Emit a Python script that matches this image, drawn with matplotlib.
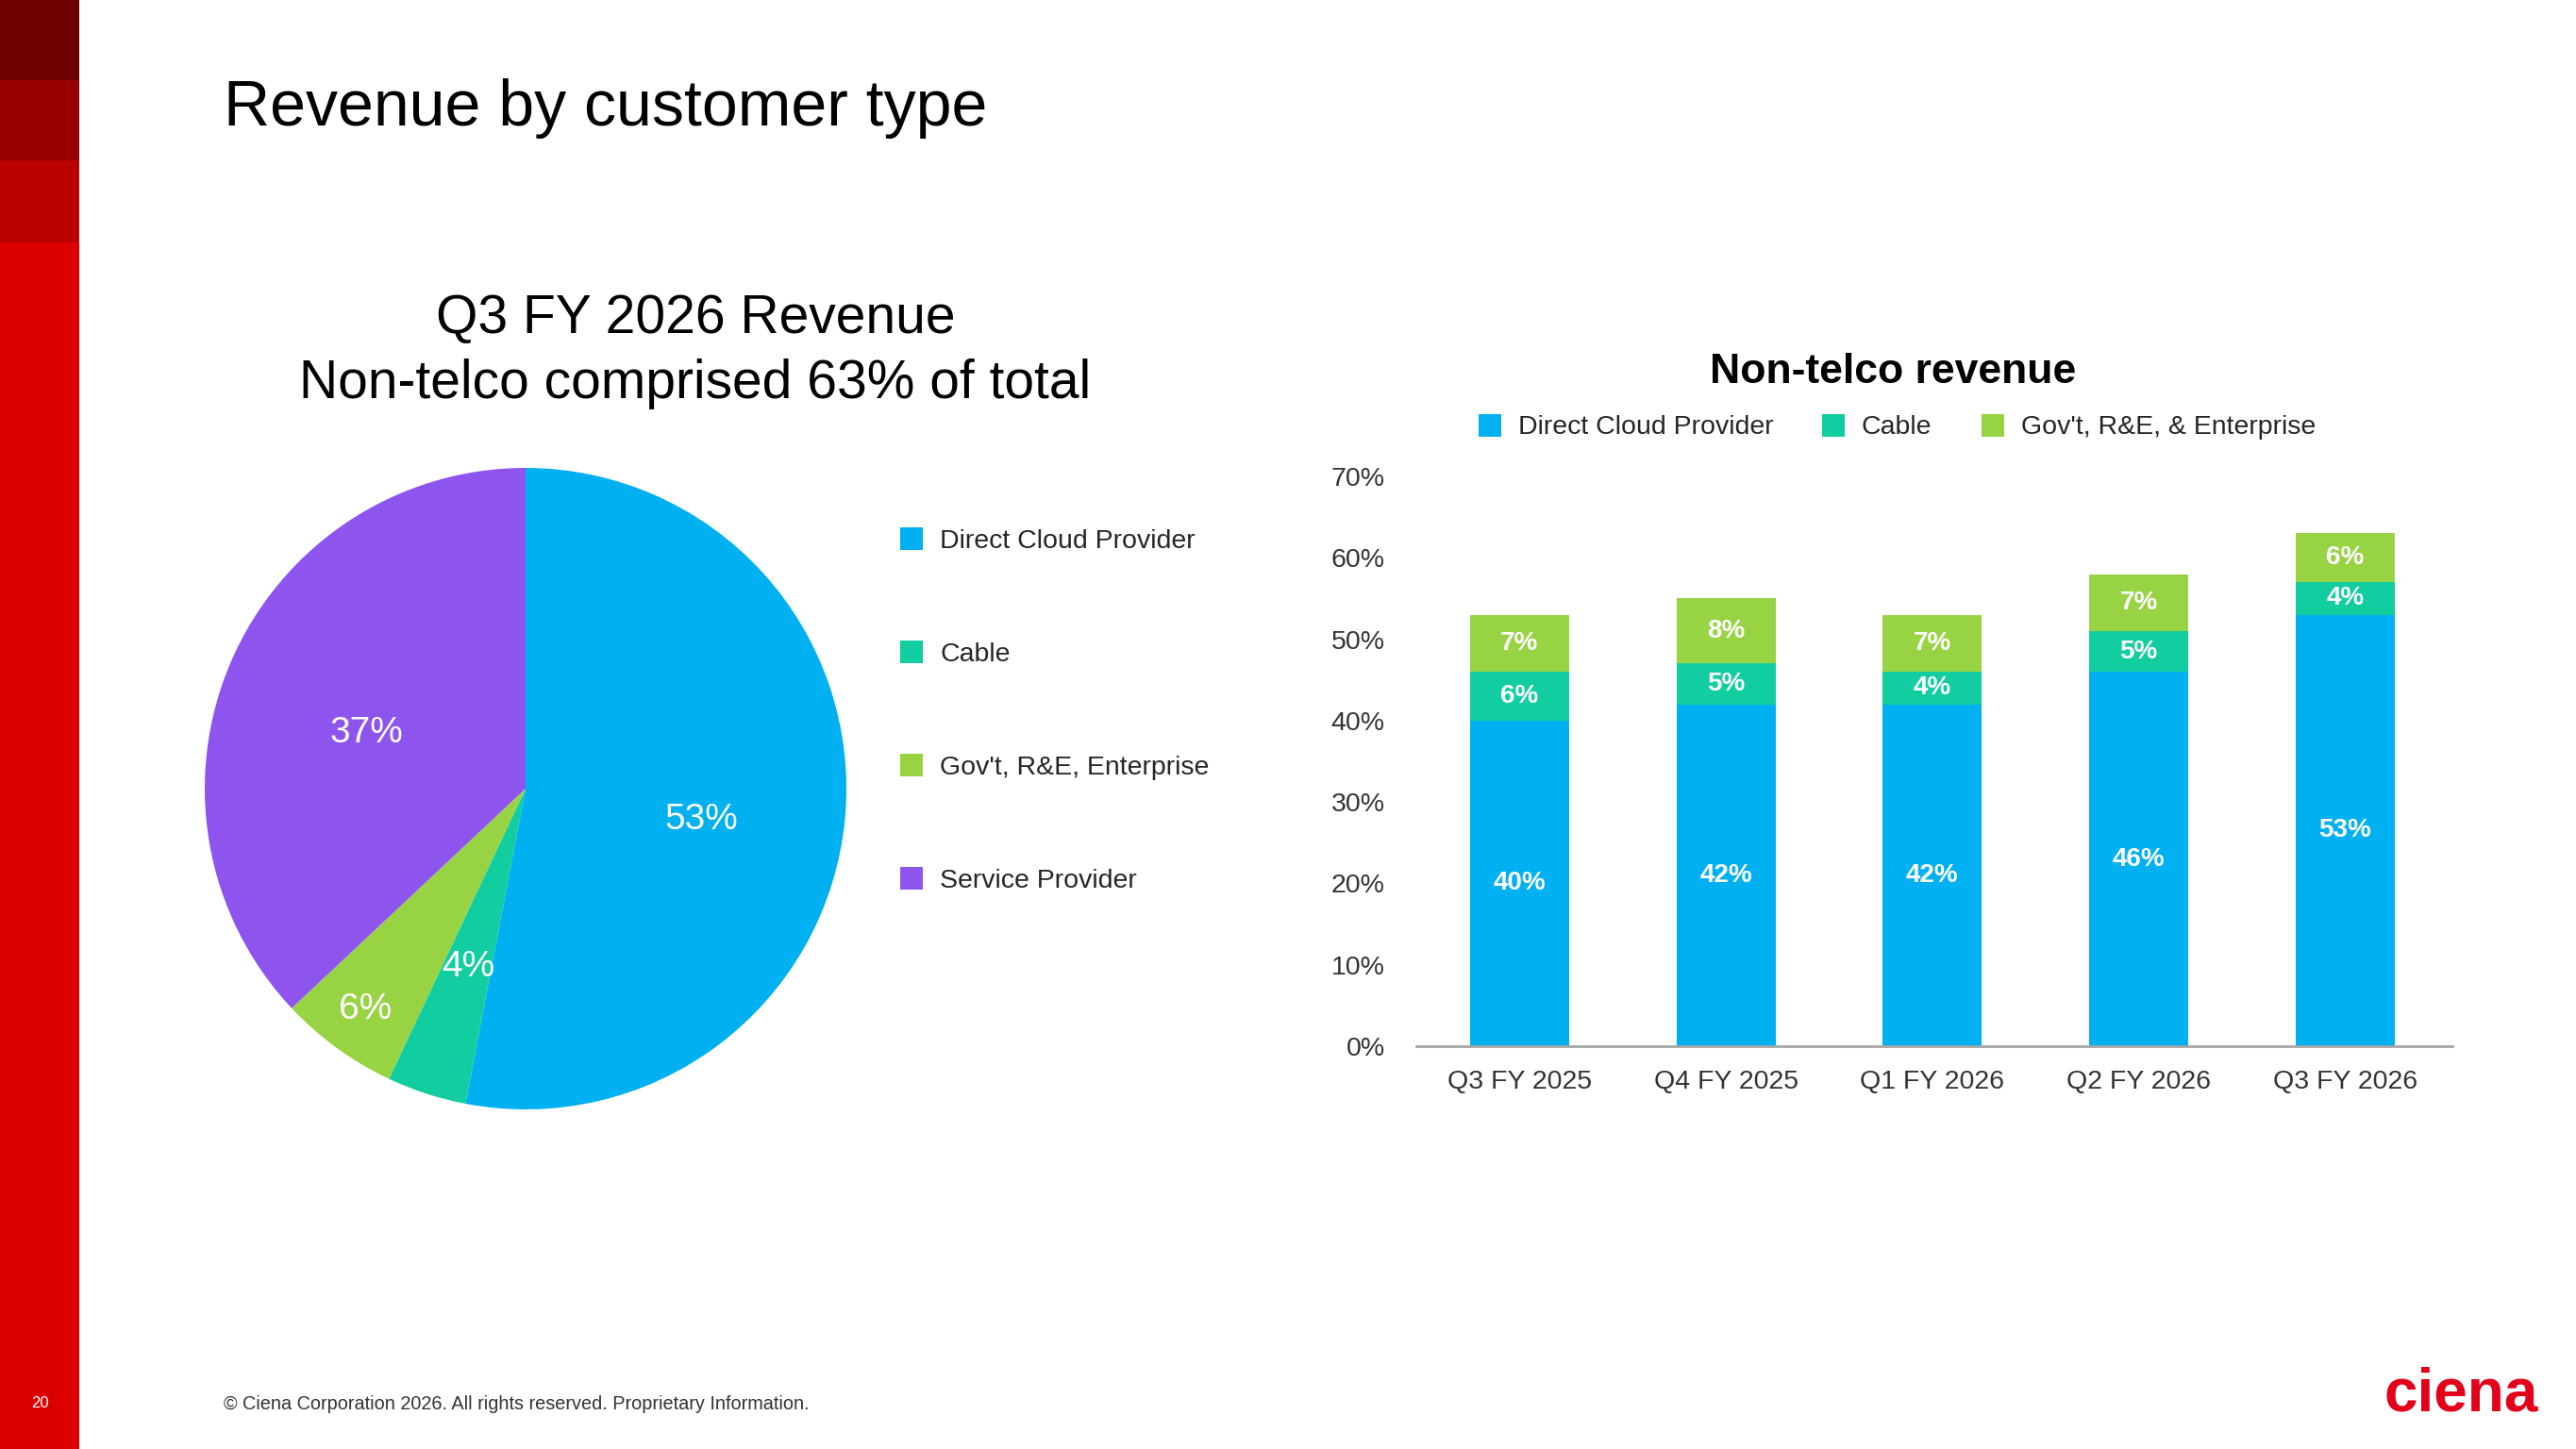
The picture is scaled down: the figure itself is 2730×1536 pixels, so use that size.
import matplotlib
matplotlib.use("Agg")
import matplotlib.pyplot as plt
from matplotlib.patches import Rectangle
import numpy as np

plt.rcParams['font.family'] = ['Liberation Sans', 'DejaVu Sans']

# pie data (Q3 FY 2026 revenue mix)
pie_labels = ['Direct Cloud Provider', 'Cable', "Gov't, R&E, Enterprise", 'Service Provider']
pie_values = [53, 4, 6, 37]

# stacked bar data (non-telco share by quarter)
quarters = ['Q3 FY 2025', 'Q4 FY 2025', 'Q1 FY 2026', 'Q2 FY 2026', 'Q3 FY 2026']
dcp = [40, 42, 42, 46, 53]
cable = [6, 5, 4, 5, 4]
gov = [7, 8, 7, 7, 6]
bar_series = ['Direct Cloud Provider', 'Cable', "Gov't, R&E, & Enterprise"]
y_ticks = [0, 10, 20, 30, 40, 50, 60, 70]

C_DCP = '#00b0f0'
C_CABLE = '#12cda0'
C_GOV = '#98d344'
C_SP = '#8e55ee'

W, H = 2730, 1536
fig = plt.figure(figsize=(W / 100, H / 100), dpi=100)


def fx(x):
    return x / W


def fy(y):
    return 1 - y / H


# red side stripe
stripe = [(0, 85, '#6e0000'), (85, 170, '#980000'), (170, 257, '#bb0000'), (257, H, '#dc0000')]
for y0, y1, col in stripe:
    fig.add_artist(Rectangle((0, fy(y1)), fx(84), (y1 - y0) / H,
                             transform=fig.transFigure, color=col, lw=0))

fig.text(fx(237), fy(115), 'Revenue by customer type', fontsize=49,
         ha='left', va='center', color='black')

# pie chart
fig.text(fx(737), fy(338), 'Q3 FY 2026 Revenue', fontsize=41, ha='center', va='center')
fig.text(fx(737), fy(407), 'Non-telco comprised 63% of total', fontsize=41,
         ha='center', va='center')

r = 340
ax1 = fig.add_axes([fx(557 - r), fy(836 + r), 2 * r / W, 2 * r / H])
wedges, _ = ax1.pie(pie_values, colors=[C_DCP, C_CABLE, C_GOV, C_SP], startangle=90,
                    counterclock=False, wedgeprops={'linewidth': 0})
ax1.set_xlim(-1, 1)
ax1.set_ylim(-1, 1)
ax1.set_aspect('equal')
ax1.axis('off')

label_dist = [0.55, 0.575, 0.85, 0.54]
label_dy = [-0.045, -0.01, 0, -0.04]
for w, v, d, dy in zip(wedges, pie_values, label_dist, label_dy):
    ang = np.deg2rad((w.theta1 + w.theta2) / 2)
    ax1.text(d * np.cos(ang), d * np.sin(ang) + dy, f'{v}%', color='white',
             fontsize=28, ha='center', va='center')

for i, (lab, col) in enumerate(zip(pie_labels, [C_DCP, C_CABLE, C_GOV, C_SP])):
    yc = 571 + i * 120
    fig.add_artist(Rectangle((fx(954), fy(yc + 12)), 24 / W, 24 / H,
                             transform=fig.transFigure, color=col, lw=0))
    fig.text(fx(996), fy(yc + 3), lab, fontsize=20.5, ha='left', va='center', color='#262626')

# stacked bar chart
fig.text(fx(2006), fy(395), 'Non-telco revenue', fontsize=32, fontweight='bold',
         ha='center', va='center')

leg_x = [1579, 1943, 2112]
for xm, lab, col in zip(leg_x, bar_series, [C_DCP, C_CABLE, C_GOV]):
    fig.add_artist(Rectangle((fx(xm - 12), fy(451 + 12)), 24 / W, 24 / H,
                             transform=fig.transFigure, color=col, lw=0))
    fig.text(fx(xm + 30), fy(453), lab, fontsize=20.5, ha='left', va='center',
             color='#262626')

ax2 = fig.add_axes([fx(1501), fy(1109), (2599 - 1501) / W, (1109 - 505) / H])
x = np.arange(len(quarters))
bw = 0.48
b1 = ax2.bar(x, dcp, bw, color=C_DCP, lw=0)
b2 = ax2.bar(x, cable, bw, bottom=dcp, color=C_CABLE, lw=0)
bottom3 = np.array(dcp) + np.array(cable)
b3 = ax2.bar(x, gov, bw, bottom=bottom3, color=C_GOV, lw=0)
for bars in (b1, b2, b3):
    ax2.bar_label(bars, labels=[f'{int(b.get_height())}%' for b in bars],
                  label_type='center', color='white', fontsize=20, fontweight='bold')

ax2.set_xlim(-0.5, 4.52)
ax2.set_ylim(0, 70)
ax2.set_yticks(y_ticks)
ax2.set_yticklabels([f'{t}%' for t in y_ticks])
ax2.set_xticks(x)
ax2.set_xticklabels(quarters)
for s in ('left', 'top', 'right'):
    ax2.spines[s].set_visible(False)
ax2.spines['bottom'].set_color('#a6a6a6')
ax2.spines['bottom'].set_linewidth(2)
ax2.tick_params(axis='y', length=0, pad=24, labelsize=20.5, labelcolor='#333333')
ax2.tick_params(axis='x', length=0, pad=18, labelsize=20.5, labelcolor='#333333')
ax2.set_facecolor('none')

# footer
fig.text(fx(42), fy(1487), '20', fontsize=12, color='white', ha='center', va='center')
fig.text(fx(237), fy(1488), '\u00a9 Ciena Corporation 2026. All rights reserved. Proprietary Information.',
         fontsize=14.3, color='#333333', ha='left', va='center')
fig.text(fx(2690), fy(1478), 'ciena', fontsize=46, fontweight='bold', color='#e2001a',
         ha='right', va='center')

fig.savefig('out.png', dpi=100)
